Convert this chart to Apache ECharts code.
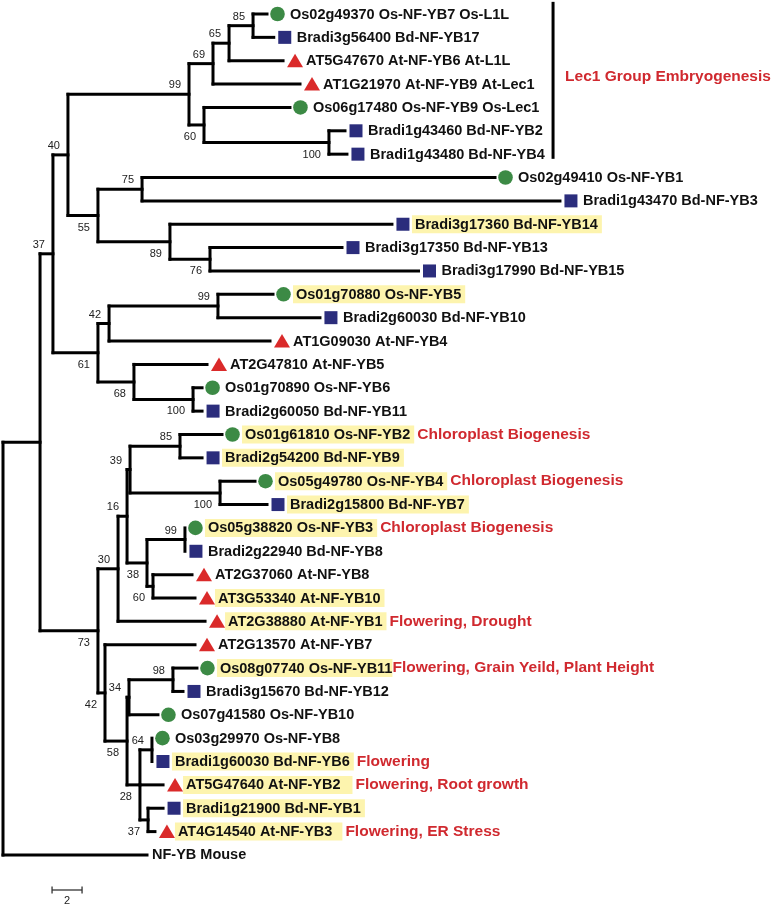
<!DOCTYPE html>
<html><head><meta charset="utf-8">
<script src="https://cdn.jsdelivr.net/npm/echarts@6/dist/echarts.min.js"></script>
<style>html,body{margin:0;padding:0;background:#fff}#c{width:774px;height:906px}</style>
</head><body><div id="c"></div>
<script>
// ---------- DATA ----------
const leafNames = [
'Os02g49370 Os-NF-YB7 Os-L1L','Bradi3g56400 Bd-NF-YB17','AT5G47670 At-NF-YB6 At-L1L','AT1G21970 At-NF-YB9 At-Lec1',
'Os06g17480 Os-NF-YB9 Os-Lec1','Bradi1g43460 Bd-NF-YB2','Bradi1g43480 Bd-NF-YB4','Os02g49410 Os-NF-YB1',
'Bradi1g43470 Bd-NF-YB3','Bradi3g17360 Bd-NF-YB14','Bradi3g17350 Bd-NF-YB13','Bradi3g17990 Bd-NF-YB15',
'Os01g70880 Os-NF-YB5','Bradi2g60030 Bd-NF-YB10','AT1G09030 At-NF-YB4','AT2G47810 At-NF-YB5',
'Os01g70890 Os-NF-YB6','Bradi2g60050 Bd-NF-YB11','Os01g61810 Os-NF-YB2','Bradi2g54200 Bd-NF-YB9',
'Os05g49780 Os-NF-YB4','Bradi2g15800 Bd-NF-YB7','Os05g38820 Os-NF-YB3','Bradi2g22940 Bd-NF-YB8',
'AT2G37060 At-NF-YB8','AT3G53340 At-NF-YB10','AT2G38880 At-NF-YB1','AT2G13570 At-NF-YB7',
'Os08g07740 Os-NF-YB11','Bradi3g15670 Bd-NF-YB12','Os07g41580 Os-NF-YB10','Os03g29970 Os-NF-YB8',
'Bradi1g60030 Bd-NF-YB6','AT5G47640 At-NF-YB2','Bradi1g21900 Bd-NF-YB1','AT4G14540 At-NF-YB3','NF-YB Mouse'];
const leafSpecies = ['Os','Bd','At','At','Os','Bd','Bd','Os','Bd','Bd','Bd','Bd','Os','Bd','At','At','Os','Bd',
'Os','Bd','Os','Bd','Os','Bd','At','At','At','At','Os','Bd','Os','Os','Bd','At','Bd','At','Mm'];
const leafParent = ['N85','N85','N65','N69','N60','N100a','N100a','N75','N75','N89','N76','N76','N99b','N99b','N42',
'N68','N100b','N100b','N85b','N85b','N100c','N100c','N99c','N99c','N60c','N60c','N30','N42c','N98','N98','N34',
'N64','N64','N28','N37','N37','R'];
const leafDepth = [17.6,18.05,18.67,19.8,19.13,22.8,22.93,32.8,37.13,25.93,22.6,27.7,18.0,21.13,17.8,13.6,13.27,13.27,
14.6,13.27,16.8,17.6,12.13,12.13,12.6,12.8,13.47,12.8,12.93,12.0,10.33,9.93,9.93,10.67,10.67,10.13,9.6];
const highlighted = [9,12,18,19,20,21,22,25,26,28,32,33,34,35];
const notes = {18:'Chloroplast Biogenesis',20:'Chloroplast Biogenesis',22:'Chloroplast Biogenesis',
26:'Flowering, Drought',28:'Flowering, Grain Yeild, Plant Height',32:'Flowering',33:'Flowering, Root growth',
35:'Flowering, ER Stress'};

const nodeNames  = ['R','A','B','C','D','H','F','G','N69','N65','N85','N60','N100a','N75','N89','N76','N42','N99b',
'N68','N100b','N30','N16','N39','N85b','N100c','N38','N99c','N60c','N42c','N58','N34','N98','N28','N64','N37'];
const nodeParent = [null,'R','A','A','B','B','D','D','F','N69','N65','F','N60','G','G','N89','H','N42',
'H','N68','C','N30','N16','N39','N39','N16','N38','N38','C','N42c','N58','N34','N58','N28','N28'];
const nodeDepth  = [0,2.47,3.33,6.33,4.33,6.33,12.4,6.33,14.0,15.07,16.67,13.4,21.73,9.27,11.13,13.8,7.07,14.33,
8.73,12.67,7.67,8.27,8.47,11.8,14.47,9.6,12.13,10.0,6.8,8.27,8.4,11.33,9.13,9.93,9.67];
const nodeSupport= [null,null,37,73,40,61,99,55,69,65,85,60,100,75,89,76,42,99,
68,100,30,16,39,85,100,38,99,60,42,58,34,98,28,64,37];

const groupLabel = 'Lec1 Group Embryogenesis';
const groupLeaves = [0, 6];
const scaleBarLength = 2;

// style-only tweaks: extra right padding of highlight boxes / note gap (px)
const hlPadRight = {28:0, 33:12, 35:10};
const noteGap = {28:0};

// ---------- TREE LAYOUT (derived) ----------
const depthOf = {}, children = {};
nodeNames.forEach((n,i)=>{depthOf[n]=nodeDepth[i]; children[n]=[];});
nodeNames.forEach((n,i)=>{ if(nodeParent[i]) children[nodeParent[i]].push({k:'n',id:n}); });
leafParent.forEach((p,i)=>children[p].push({k:'l',id:i}));
const yOf = {};
function ny(n){
  if(yOf[n]!==undefined) return yOf[n];
  const ys = children[n].map(c=> c.k==='l' ? c.id : ny(c.id));
  yOf[n] = (Math.min(...ys)+Math.max(...ys))/2; return yOf[n];
}
nodeNames.forEach(ny);

const segs = [];
leafNames.forEach((_,i)=>segs.push([depthOf[leafParent[i]], i, leafDepth[i], i]));
nodeNames.forEach((n,i)=>{
  if(nodeParent[i]) segs.push([depthOf[nodeParent[i]], yOf[n], nodeDepth[i], yOf[n]]);
  const ys = children[n].map(c=> c.k==='l' ? c.id : yOf[c.id]);
  segs.push([nodeDepth[i], Math.min(...ys), nodeDepth[i], Math.max(...ys)]);
});
const supportData = [];
nodeNames.forEach((n,i)=>{
  if(nodeSupport[i]==null) return;
  supportData.push([nodeDepth[i], yOf[n], nodeSupport[i], yOf[n] < yOf[nodeParent[i]] ? 1 : 0]);
});
const leafData = leafNames.map((_,i)=>[leafDepth[i], i, i]);

// ---------- STYLE ----------
const FONT = '"Liberation Sans", Arial, Helvetica, sans-serif';
const RED = '#d0292f';
const colors = {Os:'#3c8a45', Bd:'#2b2d7c', At:'#da2a2a'};

const chart = echarts.init(document.getElementById('c'), null, {renderer:'canvas'});
const PX = 15, TOP = 14, ROW = 23.36, ROWS = 38;
chart.setOption({
  animation:false,
  backgroundColor:'#fff',
  grid:{left:3, top:TOP, width:50*PX, height:ROWS*ROW},
  xAxis:{type:'value', min:0, max:50, show:false},
  yAxis:{type:'value', min:0, max:ROWS, inverse:true, show:false},
  series:[
    {type:'custom', data:segs, encode:{x:[0,2], y:[1,3]}, silent:true,
     renderItem:(p,api)=>{
       const a=api.coord([api.value(0),api.value(1)]), b=api.coord([api.value(2),api.value(3)]);
       return {type:'line', shape:{x1:a[0],y1:a[1],x2:b[0],y2:b[1]},
               style:{stroke:'#000', lineWidth:3, lineCap:'square'}};
     }},
    {type:'custom', data:supportData, encode:{x:0,y:1}, silent:true,
     renderItem:(p,api)=>{
       const a=api.coord([api.value(0),api.value(1)]);
       const above = api.value(3)===1;
       return {type:'text', x:a[0]-8, y:a[1]+(above?-9:12),
               style:{text:String(api.value(2)), font:'11px '+FONT, fill:'#222',
                      align:'right', verticalAlign:'middle'}};
     }},
    {type:'custom', data:leafData, encode:{x:0,y:1}, silent:true,
     renderItem:(p,api)=>{
       const i = api.value(2);
       const a = api.coord([api.value(0), api.value(1)]);
       const sp = leafSpecies[i];
       const els = [];
       let tx = a[0] + 20;
       if(sp==='Os'){
         els.push({type:'circle', shape:{cx:a[0]+10.5, cy:a[1], r:7.3}, style:{fill:colors.Os}});
       } else if(sp==='Bd'){
         els.push({type:'rect', shape:{x:a[0]+4.5, y:a[1]-6.5, width:13, height:13}, style:{fill:colors.Bd}});
       } else if(sp==='At'){
         const cx=a[0]+12;
         els.push({type:'polygon', shape:{points:[[cx,a[1]-7],[cx+8,a[1]+6.5],[cx-8,a[1]+6.5]]}, style:{fill:colors.At}});
       } else { tx = a[0] + 2; }
       const hl = highlighted.indexOf(i)>=0;
       const pr = hlPadRight[i]!==undefined ? hlPadRight[i] : 4;
       const ng = noteGap[i]!==undefined ? noteGap[i] : 3;
       let txt = (hl?'{h|':'{p|') + leafNames[i] + '}';
       if(notes[i]) txt += '{n|' + notes[i] + '}';
       els.push({type:'text', x:tx, y:a[1], style:{
         text:txt, align:'left', verticalAlign:'middle',
         rich:{
           h:{fontFamily:FONT, fontWeight:'bold', fontSize:14.5, fill:'#111', backgroundColor:'#fdf4ae',
              padding:[2,pr,1,3], lineHeight:16},
           p:{fontFamily:FONT, fontWeight:'bold', fontSize:14.5, fill:'#111', padding:[2,4,1,3], lineHeight:16},
           n:{fontFamily:FONT, fontWeight:'bold', fontSize:15.5, fill:RED, padding:[0,0,0,ng]}
         }}});
       return {type:'group', children:els};
     }},
    // Lec1 group bracket + label
    {type:'custom', data:[[36.67, groupLeaves[0]-0.52, groupLeaves[1]+0.2]], encode:{x:0,y:1}, silent:true,
     renderItem:(p,api)=>{
       const a=api.coord([api.value(0),api.value(1)]), b=api.coord([api.value(0),api.value(2)]);
       const m=api.coord([api.value(0), (groupLeaves[0]+groupLeaves[1])/2 - 0.3]);
       return {type:'group', children:[
         {type:'line', shape:{x1:a[0],y1:a[1],x2:b[0],y2:b[1]}, style:{stroke:'#000', lineWidth:3}},
         {type:'text', x:m[0]+12, y:m[1], style:{text:groupLabel, fontFamily:FONT, fontWeight:'bold',
           fontSize:15.5, fill:RED, align:'left', verticalAlign:'middle'}}
       ]};
     }},
    // scale bar
    {type:'custom', data:[[3.27, 37.5, scaleBarLength]], encode:{x:0,y:1}, silent:true,
     renderItem:(p,api)=>{
       const a=api.coord([api.value(0),api.value(1)]), b=api.coord([api.value(0)+api.value(2),api.value(1)]);
       const st={stroke:'#333', lineWidth:1.3};
       return {type:'group', children:[
         {type:'line', shape:{x1:a[0],y1:a[1],x2:b[0],y2:b[1]}, style:st},
         {type:'line', shape:{x1:a[0],y1:a[1]-3.5,x2:a[0],y2:a[1]+3.5}, style:st},
         {type:'line', shape:{x1:b[0],y1:b[1]-3.5,x2:b[0],y2:b[1]+3.5}, style:st},
         {type:'text', x:(a[0]+b[0])/2, y:a[1]+11, style:{text:String(api.value(2)), font:'11px '+FONT,
           fill:'#222', align:'center', verticalAlign:'middle'}}
       ]};
     }}
  ]
});
</script></body></html>
